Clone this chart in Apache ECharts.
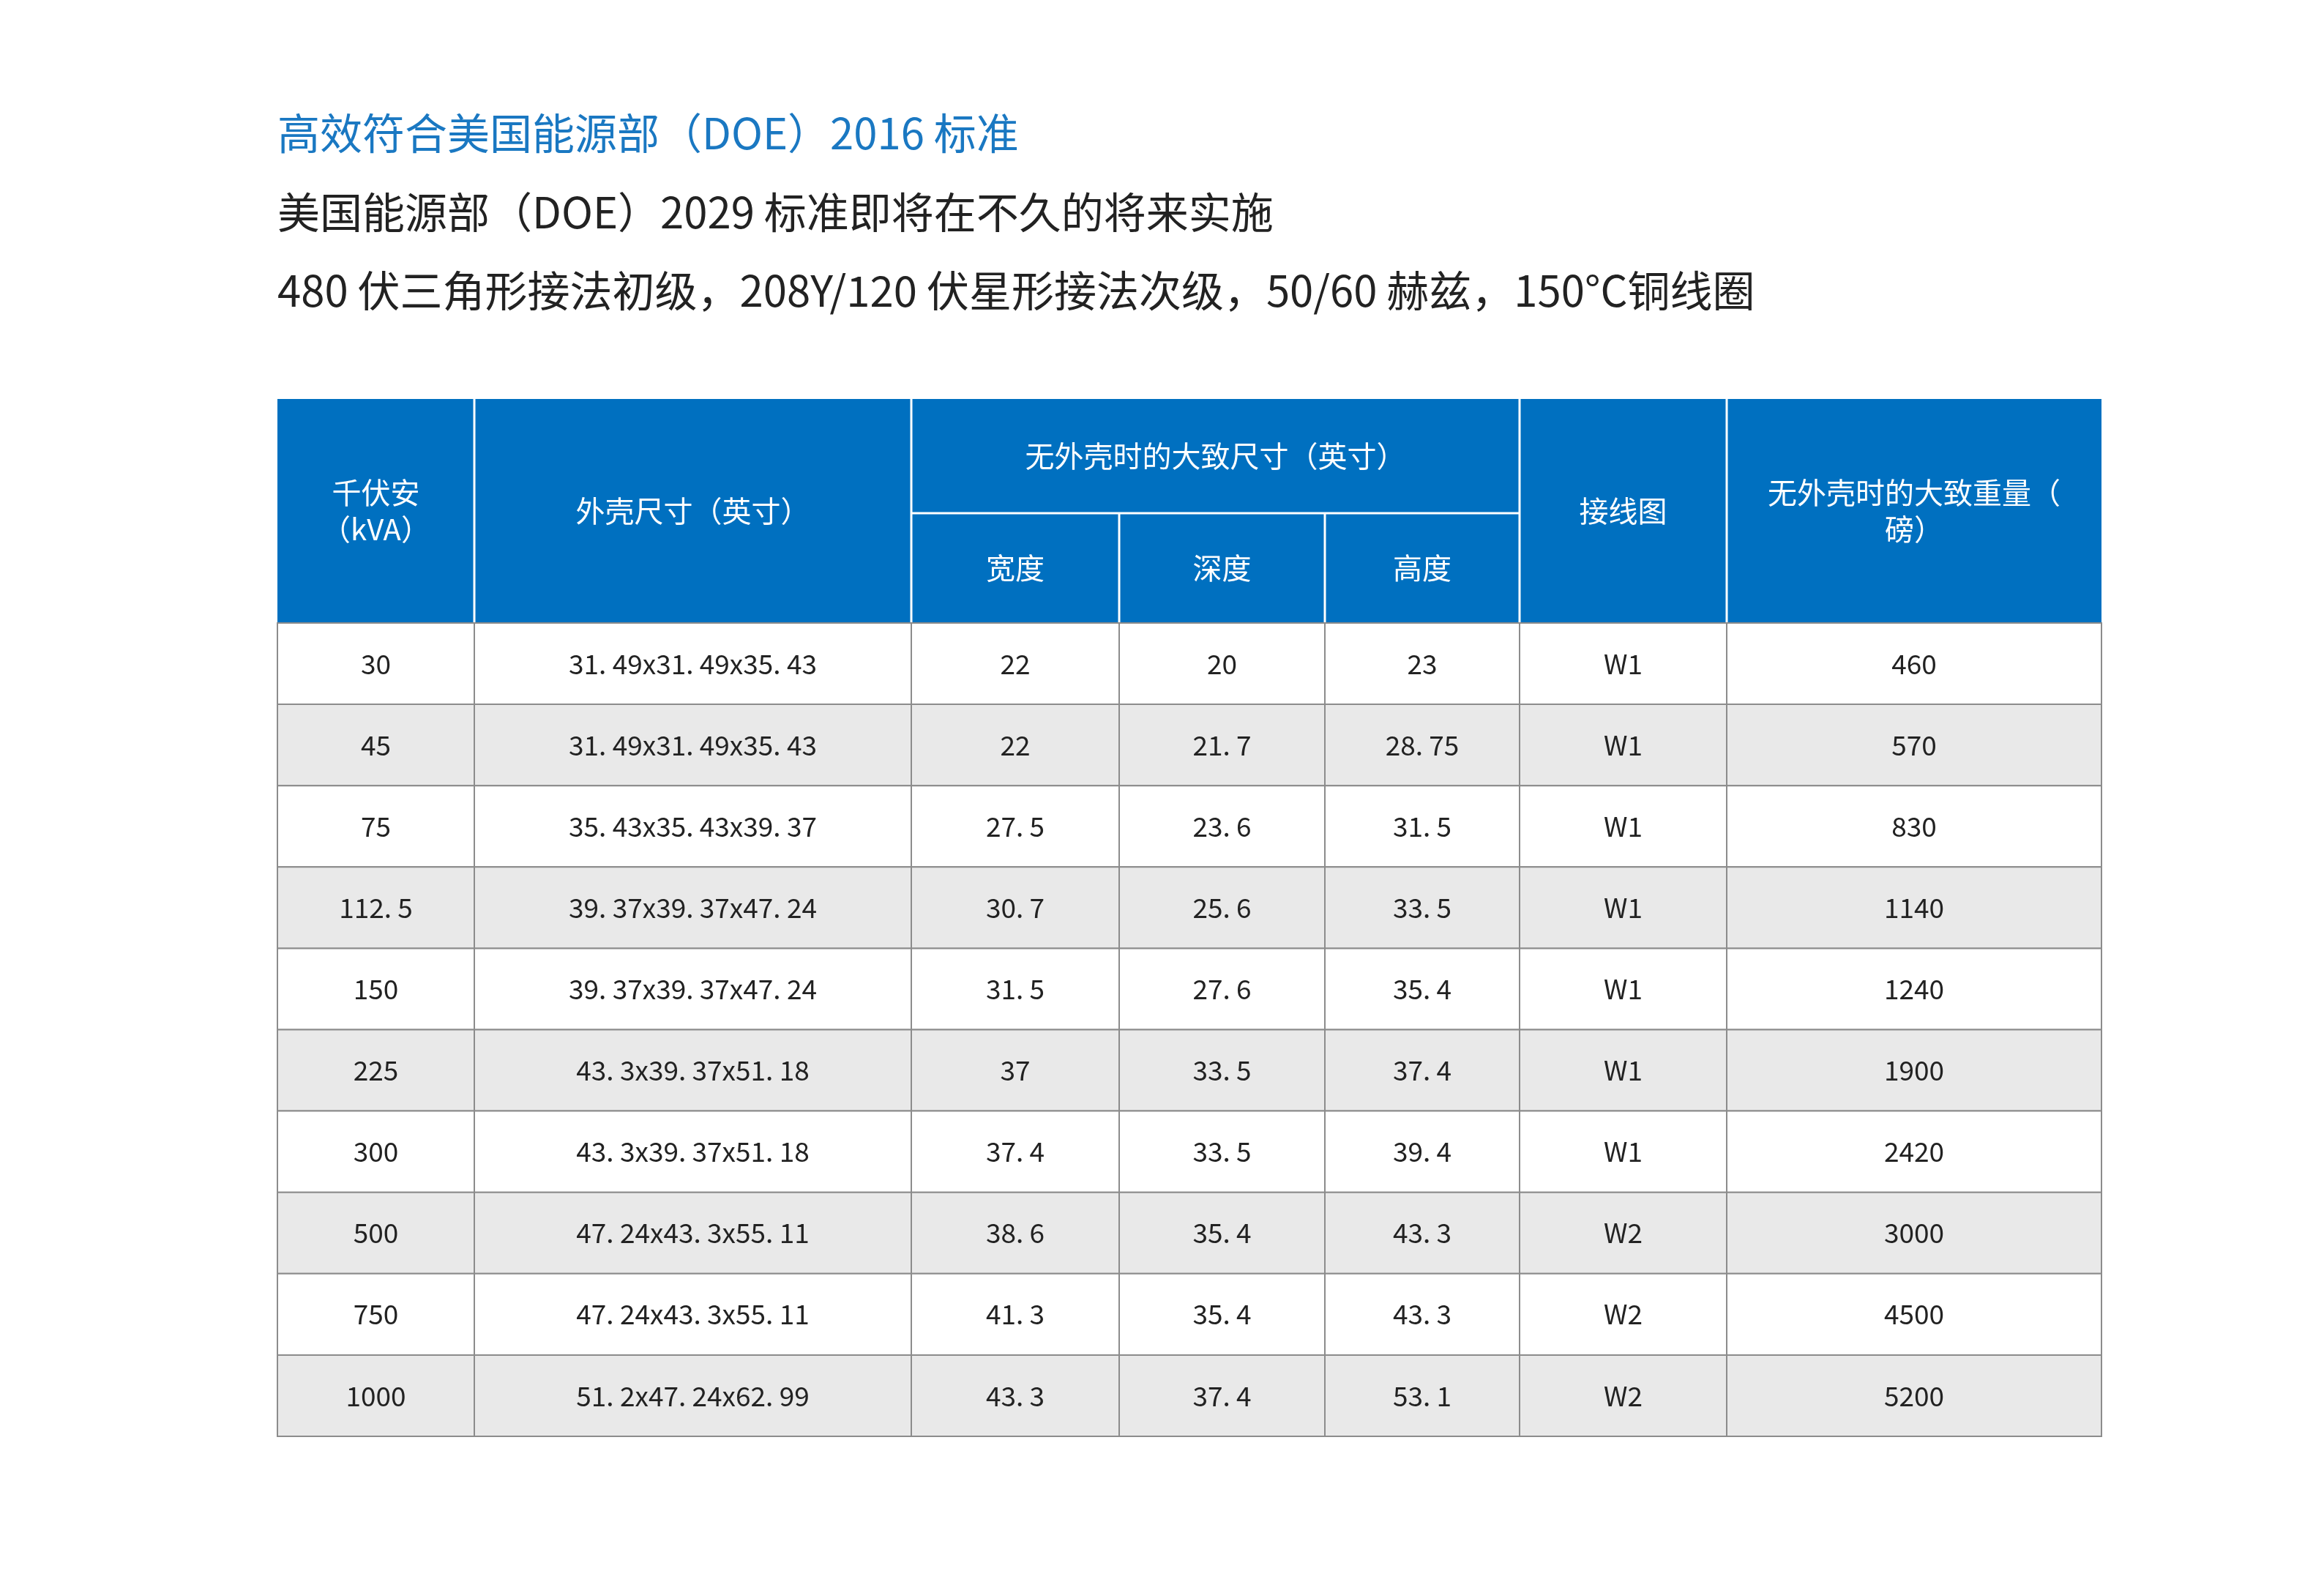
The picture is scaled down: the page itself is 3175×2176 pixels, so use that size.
<!DOCTYPE html>
<html><head><meta charset="utf-8">
<script src="https://cdn.jsdelivr.net/npm/echarts@6/dist/echarts.min.js"></script>
<style>html,body{margin:0;padding:0;background:#fff}#c{width:3175px;height:2176px}</style>
</head><body><div id="c"></div>
<script>
const titles = ['高效符合美国能源部（DOE）2016 标准','美国能源部（DOE）2029 标准即将在不久的将来实施','480 伏三角形接法初级，208Y/120 伏星形接法次级，50/60 赫兹，150°C铜线圈'];
const kva = ['30','45','75','112.5','150','225','300','500','750','1000'];
const enclosure = ['31.49x31.49x35.43','31.49x31.49x35.43','35.43x35.43x39.37','39.37x39.37x47.24','39.37x39.37x47.24','43.3x39.37x51.18','43.3x39.37x51.18','47.24x43.3x55.11','47.24x43.3x55.11','51.2x47.24x62.99'];
const widthIn = ['22','22','27.5','30.7','31.5','37','37.4','38.6','41.3','43.3'];
const depthIn = ['20','21.7','23.6','25.6','27.6','33.5','33.5','35.4','35.4','37.4'];
const heightIn = ['23','28.75','31.5','33.5','35.4','37.4','39.4','43.3','43.3','53.1'];
const wiring = ['W1','W1','W1','W1','W1','W1','W1','W2','W2','W2'];
const weight = ['460','570','830','1140','1240','1900','2420','3000','4500','5200'];

(function(){
const colX = [379, 648, 1245, 1529, 1810, 2076, 2359, 2871];
const tTop = 545, mid = 701, hb = 851, rh = 111.1;
const blue = '#0070c0', font = '"Noto Sans CJK SC", sans-serif';
const els = [];
const tcol = ['#1a78c2','#222','#222'];
titles.forEach((t,i)=>els.push({type:'text',x:379,y:[182,290,397][i],style:{text:t,fill:tcol[i],font:'58px '+font,textVerticalAlign:'middle'}}));
els.push({type:'rect',shape:{x:colX[0],y:tTop,width:colX[7]-colX[0],height:hb-tTop},style:{fill:blue}});
const wl = {stroke:'#fff',lineWidth:3};
[1,2,5,6].forEach(i=>els.push({type:'line',shape:{x1:colX[i],y1:tTop,x2:colX[i],y2:hb},style:wl}));
[3,4].forEach(i=>els.push({type:'line',shape:{x1:colX[i],y1:mid,x2:colX[i],y2:hb},style:wl}));
els.push({type:'line',shape:{x1:colX[2],y1:mid,x2:colX[5],y2:mid},style:wl});
function ht(text,x,y){els.push({type:'text',x,y,style:{text,fill:'#fff',font:'40px '+font,textAlign:'center',textVerticalAlign:'middle',lineHeight:50}});}
ht('千伏安\n（kVA）',(colX[0]+colX[1])/2,(tTop+hb)/2);
ht('外壳尺寸（英寸）',(colX[1]+colX[2])/2,(tTop+hb)/2);
ht('无外壳时的大致尺寸（英寸）',(colX[2]+colX[5])/2,(tTop+mid)/2);
ht('宽度',(colX[2]+colX[3])/2,(mid+hb)/2);
ht('深度',(colX[3]+colX[4])/2,(mid+hb)/2);
ht('高度',(colX[4]+colX[5])/2,(mid+hb)/2);
ht('接线图',(colX[5]+colX[6])/2,(tTop+hb)/2);
ht('无外壳时的大致重量（\n磅）',(colX[6]+colX[7])/2,(tTop+hb)/2);
const cols = [kva,enclosure,widthIn,depthIn,heightIn,wiring,weight];
kva.forEach((_,r)=>{
  const y = hb + r*rh;
  els.push({type:'rect',shape:{x:colX[0],y,width:colX[7]-colX[0],height:rh},style:{fill:r%2?'#e9e9e9':'#fff',stroke:'#8c8c8c',lineWidth:2}});
  cols.forEach((c,j)=>{
    if(j>0) els.push({type:'line',shape:{x1:colX[j],y1:y,x2:colX[j],y2:y+rh},style:{stroke:'#8c8c8c',lineWidth:2}});
    els.push({type:'text',x:(colX[j]+colX[j+1])/2,y:y+rh/2,style:{text:c[r].replace(/\./g,'. '),fill:'#222',font:'37px '+font,textAlign:'center',textVerticalAlign:'middle'}});
  });
});
const ch = echarts.init(document.getElementById('c'));
ch.setOption({graphic:{elements:els}});
})();
</script></body></html>
